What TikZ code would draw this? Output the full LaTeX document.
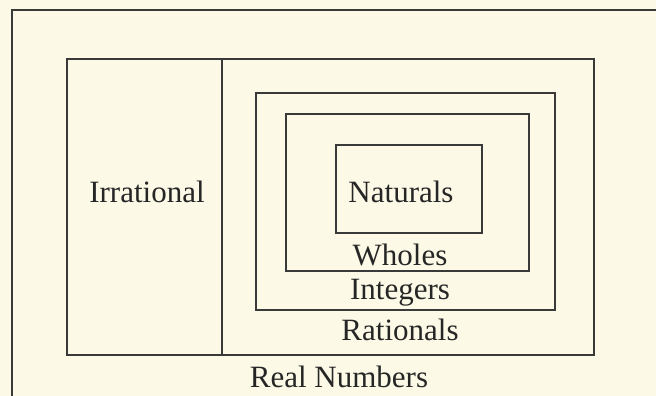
\documentclass[tikz,border=0pt]{standalone}
\usepackage{fontspec}
\setmainfont{Liberation Serif}
\definecolor{paper}{HTML}{FCFAE6}
\definecolor{ink}{HTML}{3A3A3A}
\begin{document}
\begin{tikzpicture}[
    x=1pt, y=-1pt,
    every node/.style={font=\fontsize{31pt}{36pt}\selectfont, text=black!85, inner sep=0pt},
    setline/.style={draw=ink, line width=1.8pt},
    lbl/.style={anchor=base}
]
\clip (0,0) rectangle (656,396);
\fill[paper] (0,0) rectangle (656,396);
% outer frame, runs off the page on the right and bottom
\draw[setline] (12,10) rectangle (700,440);

% reals split into irrational | rational
\draw[setline] (67,59) rectangle (594,355);
\draw[setline] (222,59) -- (222,355);
\draw[setline] (256,93) rectangle (555,310);   % integers
\draw[setline] (286,114) rectangle (529,271);  % wholes
\draw[setline] (336,145) rectangle (482,233);  % naturals

\node[lbl] (irr)  at (147,202) {Irrational};
\node[lbl] (nat)  at (401,202) {Naturals};
\node[lbl] (whl)  at (400,265) {Wholes};
\node[lbl] (intg) at (400,299) {Integers};
\node[lbl] (rat)  at (400,340) {Rationals};
\node[lbl] (real) at (339,387) {Real Numbers};
\end{tikzpicture}
\end{document}
